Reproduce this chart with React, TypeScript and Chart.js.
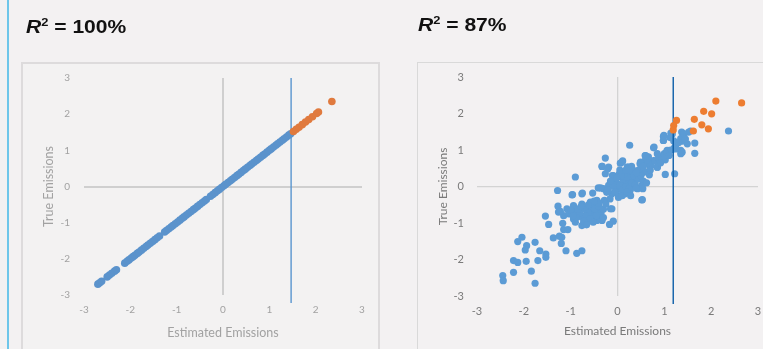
import React, { useEffect, useRef } from "react";
import { Chart, registerables } from "chart.js";
Chart.register(...registerables);

// ---------- DATA ----------
const axisTicks = [-3, -2, -1, 0, 1, 2, 3];
const xTitle = "Estimated Emissions";
const yTitle = "True Emissions";
const leftTitleR2 = "100%";
const rightTitleR2 = "87%";
const leftCutoff = 1.47;
const rightCutoff = 1.19;

// Left chart (R2 = 100%): true = estimated, points lie on diagonal
const leftBlueVals = [
  -2.70, -2.66, -2.62,
  -2.50, -2.45, -2.40, -2.34, -2.30,
  -2.12, -2.07, -2.03, -1.98, -1.94, -1.90, -1.85, -1.81, -1.76, -1.71, -1.66, -1.62, -1.57, -1.52, -1.47, -1.42, -1.37,
  -1.26, -1.22, -1.17, -1.12, -1.08, -1.03, -0.98, -0.93, -0.88, -0.84, -0.79, -0.74, -0.69, -0.64, -0.60, -0.55, -0.50, -0.45, -0.40, -0.36,
  -0.27, -0.22, -0.17, -0.12, -0.08, -0.03, 0.02, 0.06, 0.11, 0.16, 0.20, 0.25, 0.30, 0.34, 0.39, 0.44, 0.48, 0.53, 0.58, 0.62, 0.67, 0.72,
  0.76, 0.81, 0.86, 0.90, 0.95, 1.00, 1.04, 1.09, 1.14, 1.18, 1.23, 1.28, 1.32, 1.37, 1.42, 1.46,
];
const leftOrangeVals = [1.52, 1.58, 1.64, 1.71, 1.78, 1.85, 1.93, 2.02, 2.06, 2.35];

// Right chart (R2 = 87%)
const rightOrange: [number, number][] = [
  [2.10, 2.34], [2.65, 2.29], [1.84, 2.06], [2.01, 1.99], [1.64, 1.84], [1.80, 1.69],
  [1.94, 1.58], [1.62, 1.52], [1.26, 1.81], [1.20, 1.67], [1.19, 1.55],
];
const rightBlue: [number, number][] = [
  [2.37, 1.52], [1.56, 1.52], [1.65, 1.19], [1.65, 0.91], [1.49, 1.17], [1.35, 0.90], [1.35, 0.99],
  [1.37, 1.24], [1.39, 1.35], [1.37, 1.49], [1.14, 1.46], [0.98, 1.37], [0.98, 1.26], [1.12, 1.34],
  [1.21, 1.05], [1.11, 0.99], [1.00, 0.90], [1.02, 0.73], [0.90, 0.81], [0.77, 1.06], [0.77, 0.71],
  [0.66, 0.81], [0.59, 0.85], [0.59, 0.71], [0.48, 0.62], [0.85, 0.53], [0.68, 0.58], [1.02, 0.33],
  [1.22, 0.35], [0.68, 0.32], [0.52, 0.37], [0.34, 0.44], [0.26, 1.13], [0.11, 0.70], [0.06, 0.64],
  [0.23, 0.53], [0.27, 0.39], [-0.26, 0.78], [-0.33, 0.55], [-0.19, 0.53], [-0.26, 0.35], [-0.09, 0.30],
  [0.04, 0.35], [-0.90, 0.26], [-1.28, -0.11], [-0.96, -0.22], [-0.76, -0.20], [-0.41, -0.04], [-0.53, -0.18],
  [-0.30, -0.06], [-0.19, 0.03], [-0.09, 0.16], [-0.01, 0.07], [0.06, -0.06], [0.13, 0.07], [0.20, 0.12],
  [0.28, 0.03], [0.34, 0.16], [0.41, 0.26], [0.43, -0.06], [0.52, 0.03], [0.54, -0.06], [0.52, -0.37],
  [0.27, -0.11], [0.16, -0.20], [0.02, -0.25], [-0.12, -0.20], [-0.23, -0.16], [-0.16, -0.34], [-0.28, -0.38],
  [-0.12, -0.61], [-0.09, -0.95], [-0.17, -1.04], [-0.44, -0.38], [-0.51, -0.48], [-0.58, -0.43], [-0.65, -0.57],
  [-0.76, -0.48], [-0.80, -0.61], [-0.94, -0.52], [-0.94, -0.70], [-1.04, -0.75], [-1.15, -0.80], [-1.26, -0.70],
  [-1.27, -0.54], [-1.22, -0.68], [-1.08, -0.61], [-0.87, -0.80], [-0.76, -0.84], [-0.65, -0.75], [-0.55, -0.70],
  [-0.44, -0.66], [-0.37, -0.84], [-0.33, -0.93], [-0.44, -0.93], [-0.51, -0.84], [-0.62, -0.93], [-0.72, -1.01],
  [-0.76, -1.07], [-0.90, -0.98], [-0.94, -0.89], [-1.17, -1.01], [-1.15, -1.18], [-1.06, -1.18], [-1.19, -1.39],
  [-1.37, -1.41], [-1.24, -1.36], [-1.20, -1.56], [-1.54, -0.81], [-1.47, -1.04], [-1.10, -1.76], [-0.87, -1.83],
  [-0.76, -1.76], [-1.76, -1.53], [-2.04, -1.39], [-2.13, -1.51], [-1.94, -1.62], [-1.97, -1.74], [-1.66, -1.76],
  [-1.53, -1.85], [-1.53, -1.94], [-1.70, -2.03], [-1.95, -2.05], [-2.22, -2.03], [-2.13, -2.08], [-2.22, -2.35],
  [-1.84, -2.32], [-2.45, -2.44], [-2.44, -2.58], [-1.76, -2.65],
  [-0.33, 0.55], [-0.21, 0.48], [0.10, 0.67], [0.21, 0.53], [-0.11, 0.30], [-0.36, -0.04], [-0.75, -0.18],
  [-0.97, -0.23], [0.53, -0.36], [-0.15, -0.61], [0.78, 1.08], [0.60, 0.85], [0.49, 0.67], [0.67, 0.62],
  [0.85, 0.53], [0.99, 0.85], [1.06, 0.99], [0.98, 1.26], [0.99, 1.40], [1.17, 1.44], [1.35, 1.31],
  [1.38, 0.94], [1.24, 1.03], [1.42, 1.44], [1.52, 1.49],
  [-0.05, 0.10], [0.00, -0.05], [0.05, 0.05], [0.10, -0.10], [0.12, 0.20], [0.18, 0.00], [0.22, 0.25],
  [0.25, -0.05], [0.30, 0.10], [0.35, 0.30], [0.38, 0.05], [0.15, 0.35], [0.08, 0.28], [-0.02, 0.22],
  [-0.10, 0.00], [-0.05, -0.15], [0.02, -0.30], [0.10, -0.25], [0.20, -0.15], [0.28, -0.25], [0.40, -0.05],
  [0.45, 0.20], [0.55, 0.15], [0.60, 0.40], [0.45, 0.45], [0.30, 0.55], [-0.15, 0.15], [-0.20, -0.10],
  [0.05, 0.45], [0.18, 0.45], [0.62, 0.10], [0.50, 0.30],
  [-0.70, -0.62], [-0.62, -0.72], [-0.55, -0.55], [-0.48, -0.62], [-0.40, -0.55], [-0.35, -0.72],
  [-0.68, -0.80], [-0.80, -0.72], [-0.85, -0.62], [-0.58, -0.88], [-0.45, -0.80], [-0.30, -0.62],
  [-0.25, -0.48], [-0.72, -0.95], [-0.88, -0.85], [-1.00, -0.65], [-0.40, -0.45], [-0.50, -0.40],
  [-0.62, -0.50], [-0.78, -0.55], [-0.95, -0.80], [-0.52, -0.98], [-0.66, -1.05], [-0.30, -0.85],
  [0.65, 0.65], [0.72, 0.58], [0.80, 0.70], [0.88, 0.78], [0.92, 0.65], [0.55, 0.55], [0.40, 0.38],
  [0.70, 0.45], [0.85, 0.90], [1.05, 0.95], [1.10, 0.85], [1.15, 1.00], [1.25, 1.15], [1.30, 1.20],
  [1.20, 1.25], [1.45, 1.30],
];

// ---------- CHART ----------
type PanelProps = {
  blue: { x: number; y: number }[];
  orange: { x: number; y: number }[];
  cutoff: number;
  lineColor: string;
  width: number;
  height: number;
  padRight: number;
  axisW: number;
  axisH: number;
  textColor: string;
  tickSize: number;
  titleSize: number;
  zeroColor: string;
  zeroWidth: number;
  yTickPad: number;
  xTickPad: number;
  yTitlePad: number;
  xTitlePad: number;
  radius: number;
  blueColor: string;
  orangeColor: string;
  style: React.CSSProperties;
};

function Panel(p: PanelProps) {
  const ref = useRef<HTMLCanvasElement | null>(null);
  useEffect(() => {
    if (!ref.current) return;
    const font = { family: "Lato, 'Open Sans', sans-serif", size: p.tickSize };
    const tfont = { family: "Lato, 'Open Sans', sans-serif", size: p.titleSize };
    const grid = {
      color: (c: any) => (c.tick && c.tick.value === 0 ? p.zeroColor : "rgba(0,0,0,0)"),
      lineWidth: p.zeroWidth,
      drawTicks: false,
    };
    const chart = new Chart(ref.current, {
      type: "scatter",
      data: {
        datasets: [
          {
            data: p.orange,
            backgroundColor: p.orangeColor,
            borderColor: p.orangeColor,
            borderWidth: 0,
            pointRadius: p.radius,
          },
          {
            data: [
              { x: p.cutoff, y: 3 },
              { x: p.cutoff, y: -3.22 },
            ],
            showLine: true,
            borderColor: p.lineColor,
            borderWidth: 1.4,
            pointRadius: 0,
            clip: false as any,
          },
          {
            data: p.blue,
            backgroundColor: p.blueColor,
            borderColor: p.blueColor,
            borderWidth: 0,
            pointRadius: p.radius,
          },
        ],
      },
      options: {
        animation: false,
        responsive: false,
        maintainAspectRatio: false,
        layout: { padding: { top: 15, right: p.padRight, left: 0, bottom: 0 } },
        plugins: { legend: { display: false }, tooltip: { enabled: false } },
        scales: {
          x: {
            type: "linear",
            min: -3,
            max: 3,
            afterBuildTicks: (s: any) => {
              s.ticks = axisTicks.map((v) => ({ value: v }));
            },
            afterFit: (s: any) => {
              s.height = p.axisH;
              s.paddingLeft = 0;
              s.paddingRight = 0;
            },
            grid,
            border: { display: false },
            ticks: { color: p.textColor, font, padding: p.xTickPad },
            title: {
              display: true,
              text: xTitle,
              color: p.textColor,
              font: tfont,
              padding: { top: 0, bottom: p.xTitlePad },
            },
          },
          y: {
            type: "linear",
            min: -3,
            max: 3,
            afterBuildTicks: (s: any) => {
              s.ticks = axisTicks.map((v) => ({ value: v }));
            },
            afterFit: (s: any) => {
              s.width = p.axisW;
              s.paddingTop = 0;
              s.paddingBottom = 0;
            },
            grid,
            border: { display: false },
            ticks: { color: p.textColor, font, padding: p.yTickPad },
            title: {
              display: true,
              text: yTitle,
              color: p.textColor,
              font: tfont,
              padding: { top: p.yTitlePad, bottom: 0 },
            },
          },
        },
      } as any,
    });
    return () => chart.destroy();
  }, []);
  return <canvas ref={ref} width={p.width} height={p.height} style={p.style} />;
}

const titleStyle: React.CSSProperties = {
  position: "absolute",
  fontFamily: "'Liberation Sans', Arial, sans-serif",
  fontWeight: "bold",
  fontSize: 18,
  lineHeight: "18px",
  color: "#111",
  whiteSpace: "pre",
  transform: "scaleX(1.17)",
  transformOrigin: "left center",
};

function R2Title({ value, left, top }: { value: string; left: number; top: number }) {
  return (
    <div style={{ ...titleStyle, left, top }}>
      <i>R</i>
      <span style={{ fontSize: 11, position: "relative", top: -7 }}>2</span>
      {" = " + value}
    </div>
  );
}

export default function App() {
  const leftBlue = leftBlueVals.map((v) => ({ x: v, y: v }));
  const leftOrange = leftOrangeVals.map((v) => ({ x: v, y: v }));
  const rb = rightBlue.map(([x, y]) => ({ x, y }));
  const ro = rightOrange.map(([x, y]) => ({ x, y }));
  return (
    <div
      style={{
        position: "fixed",
        left: 0,
        top: 0,
        width: 763,
        height: 349,
        background: "#f3f1f2",
        overflow: "hidden",
      }}
    >
      <div style={{ position: "absolute", left: 7, top: 0, width: 2, height: 349, background: "#6ec6ea" }} />
      <R2Title value={leftTitleR2} left={26} top={18} />
      <R2Title value={rightTitleR2} left={418} top={16} />
      <div
        style={{
          position: "absolute",
          left: 21,
          top: 62,
          width: 359,
          height: 300,
          border: "2px solid #dddbdc",
          boxSizing: "border-box",
          background: "#f3f2f2",
          filter: "blur(0.5px)",
        }}
      />
      <Panel
        blue={leftBlue}
        orange={leftOrange}
        cutoff={leftCutoff}
        lineColor="#5a96cf"
        width={357}
        height={286}
        padRight={17}
        axisW={62}
        axisH={54}
        textColor="#a2a2a2"
        tickSize={10}
        titleSize={12.5}
        zeroColor="#cfcfcf"
        zeroWidth={2}
        yTickPad={14}
        xTickPad={9}
        yTitlePad={19}
        xTitlePad={9}
        radius={3.8}
        blueColor="#5b93cc"
        orangeColor="#e07a3e"
        style={{ position: "absolute", left: 22, top: 63, filter: "blur(0.7px)" }}
      />
      <div
        style={{
          position: "absolute",
          left: 417,
          top: 62,
          width: 360,
          height: 300,
          border: "1px solid #d9d9d9",
          boxSizing: "border-box",
        }}
      />
      <Panel
        blue={rb}
        orange={ro}
        cutoff={rightCutoff}
        lineColor="#0b5ea8"
        width={346}
        height={287}
        padRight={5}
        axisW={60}
        axisH={53}
        textColor="#7a7a7a"
        tickSize={11}
        titleSize={12}
        zeroColor="#d3d3d3"
        zeroWidth={1.3}
        yTickPad={13}
        xTickPad={9}
        yTitlePad={19}
        xTitlePad={11}
        radius={3.6}
        blueColor="#5b9bd5"
        orangeColor="#ed7d31"
        style={{ position: "absolute", left: 417, top: 62 }}
      />
    </div>
  );
}
